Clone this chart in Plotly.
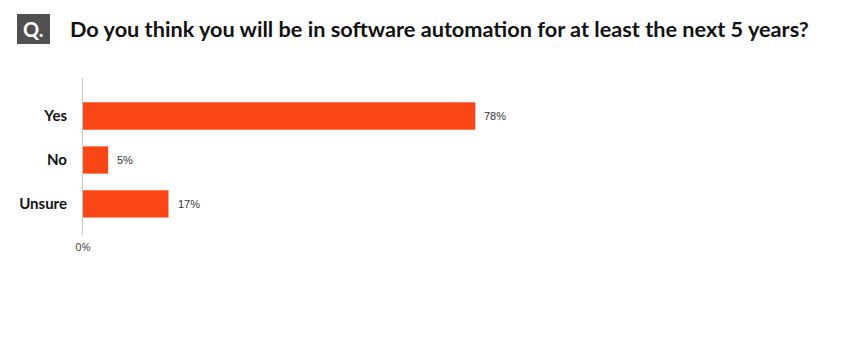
import plotly.graph_objects as go

categories = ["Yes", "No", "Unsure"]
values = [78, 5, 17]
value_labels = ["78%", "5%", "17%"]
x_tick_vals = [0]
x_tick_text = ["0%"]
title_text = "Do you think you will be in software automation for at least the next 5 years?"

W, H = 846, 350
L, R, T, B = 83, 260, 78, 115
PW = W - L - R
PH = H - T - B

def px_x(px):
    return (px - L) / PW

def px_y(py):
    return (H - B - py) / PH

bar_color = "#FA4616"

fig = go.Figure()
fig.add_trace(go.Bar(
    x=values, y=categories, orientation="h",
    marker=dict(color=bar_color, line=dict(width=0)),
    width=0.62,
    hoverinfo="skip",
))

for c, v, t in zip(categories, values, value_labels):
    fig.add_annotation(x=v, y=c, xref="x", yref="y", text=t, showarrow=False,
                       xanchor="left", yanchor="middle", xshift=7,
                       font=dict(family="Liberation Sans", size=11, color="#333333"))

# Q box
fig.add_shape(type="rect", xref="paper", yref="paper",
              x0=px_x(17), x1=px_x(50), y0=px_y(44), y1=px_y(14),
              fillcolor="#505050", line=dict(width=0), layer="above")
fig.add_annotation(x=px_x(33.5), y=px_y(29), xref="paper", yref="paper", text="<b>Q.</b>",
                   showarrow=False, xanchor="center", yanchor="middle",
                   font=dict(family="Lato", size=20, color="white"))
fig.add_annotation(x=px_x(68), y=px_y(29), xref="paper", yref="paper", text="<b>" + title_text + "</b>",
                   showarrow=False, xanchor="left", yanchor="middle",
                   font=dict(family="Lato", size=21.7, color="#111111"))

fig.update_layout(
    width=W, height=H,
    margin=dict(l=L, r=R, t=T, b=B, pad=0),
    paper_bgcolor="white", plot_bgcolor="white",
    showlegend=False,
    xaxis=dict(range=[0, 100], tickvals=x_tick_vals, ticktext=x_tick_text,
               showgrid=False, zeroline=False, showline=False, ticklabelstandoff=4,
               tickfont=dict(family="Open Sans", size=11, color="#444444"), fixedrange=True),
    yaxis=dict(categoryorder="array", categoryarray=categories,
               range=[2.705, -0.864], showgrid=False, zeroline=False,
               showline=True, linecolor="#C8C8C8", linewidth=1,
               ticks="", ticklabelstandoff=12,
               tickfont=dict(family="Lato", size=15, color="#111111", weight="bold"),
               fixedrange=True),
)

fig.write_html("out.html")
